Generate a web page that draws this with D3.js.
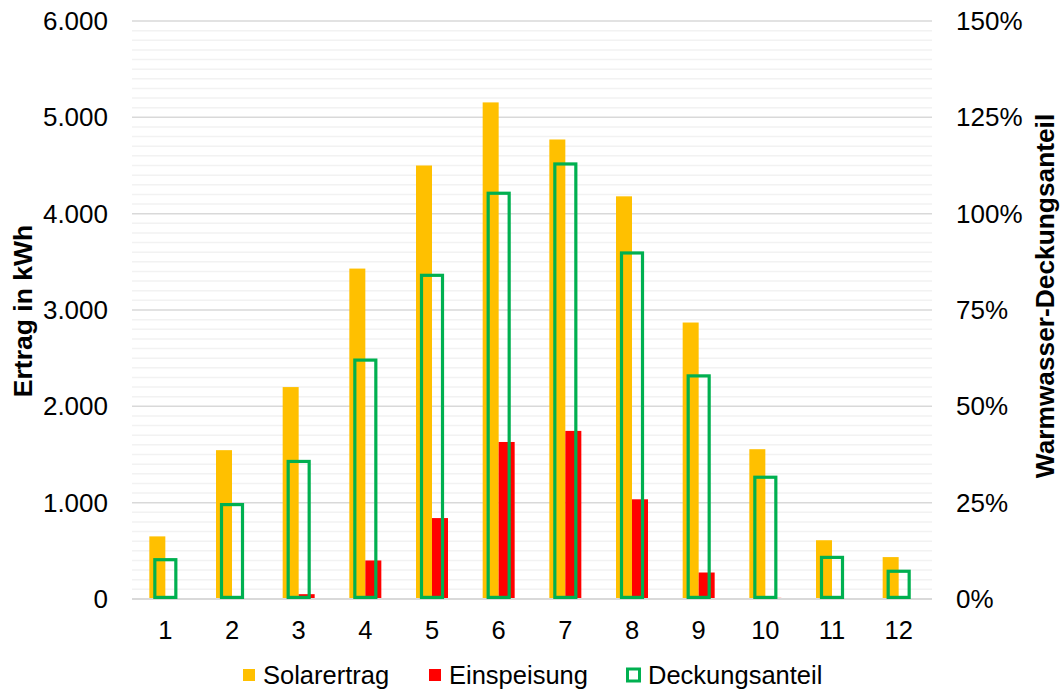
<!DOCTYPE html>
<html>
<head>
<meta charset="utf-8">
<script src="https://cdn.jsdelivr.net/npm/d3@7/dist/d3.min.js"></script>
<style>
  html, body { margin: 0; padding: 0; background: #fff; }
  svg text { font-family: "Liberation Sans", Arial, sans-serif; fill: #000; }
</style>
</head>
<body>
<svg id="chart" width="1062" height="691"></svg>
<script>
// ---- data ----
const months = ["1","2","3","4","5","6","7","8","9","10","11","12"];
const solarertrag = [650, 1545, 2200, 3430, 4500, 5155, 4770, 4180, 2870, 1555, 610, 435];
const einspeisung = [0, 0, 50, 400, 840, 1630, 1745, 1035, 275, 12, 0, 0];
const deckungsanteil = [10.2, 24.5, 35.7, 62, 84, 105.3, 112.9, 89.8, 57.9, 31.6, 10.8, 7.2];
const leftTicks = [0, 1000, 2000, 3000, 4000, 5000, 6000];
const rightTicks = [0, 25, 50, 75, 100, 125, 150];
const legendLabels = ["Solarertrag", "Einspeisung", "Deckungsanteil"];

const colors = { solar: "#FFC000", einsp: "#FF0000", deck: "#00B050" };

const svg = d3.select("#chart");
const plot = { left: 132, right: 932, top: 21, bottom: 599 };

const x = d3.scaleBand().domain(months).range([plot.left, plot.right]).paddingInner(0).paddingOuter(0);
const yL = d3.scaleLinear().domain([0, 6000]).range([plot.bottom, plot.top]);
const yR = d3.scaleLinear().domain([0, 150]).range([plot.bottom, plot.top]);

// minor gridlines
const minor = d3.range(0, 6001, 100).filter(v => v % 1000 !== 0);
svg.append("g").selectAll("line").data(minor).join("line")
  .attr("x1", plot.left).attr("x2", plot.right)
  .attr("y1", d => yL(d)).attr("y2", d => yL(d))
  .attr("stroke", "#f2f2f2").attr("stroke-width", 1.5);

// major gridlines
svg.append("g").selectAll("line").data(leftTicks.filter(v => v > 0)).join("line")
  .attr("x1", plot.left).attr("x2", plot.right)
  .attr("y1", d => yL(d)).attr("y2", d => yL(d))
  .attr("stroke", "#d9d9d9").attr("stroke-width", 1.5);

const barW = 16;
const inner = d3.scaleBand().domain(["s","e"]).range([0, barW * 2]);

// Solarertrag bars
svg.append("g").selectAll("rect").data(months).join("rect")
  .attr("x", (d) => x(d) + x.bandwidth() / 2 - barW + inner("s"))
  .attr("width", barW)
  .attr("y", (d, i) => yL(solarertrag[i]))
  .attr("height", (d, i) => yL(0) - yL(solarertrag[i]))
  .attr("fill", colors.solar);

// Einspeisung bars
svg.append("g").selectAll("rect").data(months).join("rect")
  .attr("x", (d) => x(d) + x.bandwidth() / 2 - barW + inner("e"))
  .attr("width", barW)
  .attr("y", (d, i) => yL(einspeisung[i]))
  .attr("height", (d, i) => yL(0) - yL(einspeisung[i]))
  .attr("fill", colors.einsp);

// baseline
svg.append("line")
  .attr("x1", plot.left).attr("x2", plot.right)
  .attr("y1", yL(0)).attr("y2", yL(0))
  .attr("stroke", "#d9d9d9").attr("stroke-width", 2);

// Deckungsanteil outlined bars (secondary axis)
const dW = 21, sw = 3.2;
svg.append("g").selectAll("rect").data(months).join("rect")
  .attr("x", d => x(d) + x.bandwidth() / 2 - dW / 2)
  .attr("width", dW)
  .attr("y", (d, i) => yR(deckungsanteil[i]))
  .attr("height", (d, i) => yR(0) - sw / 2 - yR(deckungsanteil[i]))
  .attr("fill", "none")
  .attr("stroke", colors.deck)
  .attr("stroke-width", sw);

// left axis labels
const fmtL = v => d3.format(",")(v).replace(/,/g, ".");
svg.append("g").selectAll("text").data(leftTicks).join("text")
  .attr("x", 108).attr("y", d => yL(d))
  .attr("dy", "0.35em")
  .attr("text-anchor", "end")
  .attr("font-size", 26)
  .text(fmtL);

// right axis labels
svg.append("g").selectAll("text").data(rightTicks).join("text")
  .attr("x", 956).attr("y", d => yR(d))
  .attr("dy", "0.35em")
  .attr("text-anchor", "start")
  .attr("font-size", 26)
  .text(d => d + "%");

// x axis labels
svg.append("g").selectAll("text").data(months).join("text")
  .attr("x", d => x(d) + x.bandwidth() / 2)
  .attr("y", 639)
  .attr("text-anchor", "middle")
  .attr("font-size", 25.5)
  .text(d => d);

// axis titles
svg.append("text")
  .attr("transform", `translate(32, 311) rotate(-90)`)
  .attr("text-anchor", "middle")
  .attr("font-size", 26.5).attr("font-weight", "bold")
  .text("Ertrag in kWh");
svg.append("text")
  .attr("transform", `translate(1054, 296) rotate(-90)`)
  .attr("text-anchor", "middle")
  .attr("font-size", 26.3).attr("font-weight", "bold")
  .text("Warmwasser-Deckungsanteil");

// legend
const legendX = [243, 429, 626];
const lg = svg.append("g");
legendLabels.forEach((lab, i) => {
  const g = lg.append("g").attr("transform", `translate(${legendX[i]}, 675)`);
  if (i < 2) {
    g.append("rect").attr("x", 0).attr("y", -6).attr("width", 12).attr("height", 12)
      .attr("fill", i === 0 ? colors.solar : colors.einsp);
  } else {
    g.append("rect").attr("x", 1.5).attr("y", -6).attr("width", 12).attr("height", 12)
      .attr("fill", "none").attr("stroke", colors.deck).attr("stroke-width", 3);
  }
  g.append("text").attr("x", i < 2 ? 20 : 22).attr("y", 0).attr("dy", "0.35em")
    .attr("font-size", 25.5).text(lab);
});
</script>
</body>
</html>
